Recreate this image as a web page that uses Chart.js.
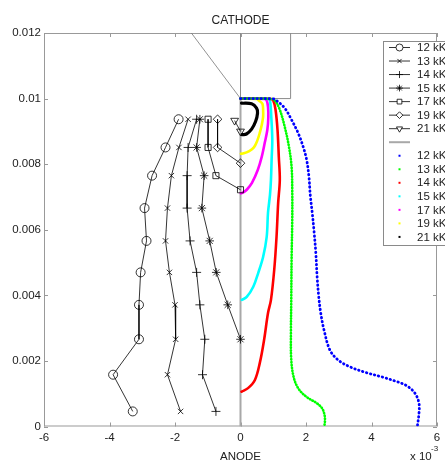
<!DOCTYPE html>
<html>
<head>
<meta charset="utf-8">
<script src="https://cdn.jsdelivr.net/npm/chart.js@4.4.0/dist/chart.umd.min.js"></script>
<style>
html, body { margin: 0; padding: 0; background: #fff; }
</style>
</head>
<body>
<canvas id="chart" width="445" height="462"></canvas>
<script>
// x in units of 1e-3, y in real units
const temps = ['12 kK', '13 kK', '14 kK', '15 kK', '17 kK', '19 kK', '21 kK'];
const xTicks = [-6, -4, -2, 0, 2, 4, 6];
const xTickLabels = ['-6', '-4', '-2', '0', '2', '4', '6'];
const yTicks = [0, 0.002, 0.004, 0.006, 0.008, 0.01, 0.012];
const yTickLabels = ['0', '0.002', '0.004', '0.006', '0.008', '0.01', '0.012'];

// measured profiles (markers)
const rowY = [0.00937, 0.00851, 0.00765, 0.00666, 0.00566, 0.0047, 0.00371, 0.00266, 0.00158, 0.00046];
const m12x = [-1.89, -2.29, -2.70, -2.93, -2.87, -3.05, -3.10, -3.10, -3.89, -3.29];
const m13x = [-1.60, -1.88, -2.11, -2.23, -2.29, -2.17, -2.00, -1.98, -2.23, -1.83];
const m14x = [-1.34, -1.60, -1.63, -1.63, -1.54, -1.34, -1.24, -1.09, -1.16, -0.75];
const m15x = [-1.24, -1.34, -1.11, -1.18, -0.94, -0.74, -0.39, 0.0];
const m15y = [0.00937, 0.00851, 0.00765, 0.00666, 0.00566, 0.0047, 0.00371, 0.00266];
const m17x = [-0.99, -0.99, -0.75, 0.0];
const m17y = [0.00937, 0.00851, 0.00765, 0.00722];
const m19x = [-0.70, -0.70, 0.0];
const m19y = [0.00937, 0.00851, 0.00803];
const m21x = [-0.18, 0.0];
const m21y = [0.00933, 0.009];

// simulated profiles (dots)
const s12x = [0.0, 1.0, 1.10, 1.35, 1.56, 1.76, 1.91, 2.02, 2.09, 2.13, 2.19, 2.25, 2.30, 2.34, 2.39, 2.45, 2.55, 2.73, 2.98, 3.34, 3.85, 4.36, 4.77, 5.08, 5.33, 5.45, 5.45, 5.40];
const s12y = [0.01, 0.00999, 0.00994, 0.00971, 0.00935, 0.00895, 0.00854, 0.00813, 0.00761, 0.00706, 0.00652, 0.0059, 0.00529, 0.00456, 0.00395, 0.00346, 0.00294, 0.00233, 0.00203, 0.00182, 0.00164, 0.0015, 0.00137, 0.00124, 0.00101, 0.00071, 0.0004, 0.0];
const s13x = [0.0, 0.95, 1.05, 1.20, 1.35, 1.48, 1.56, 1.58, 1.58, 1.56, 1.55, 1.54, 1.55, 1.63, 1.78, 2.02, 2.33, 2.49, 2.56, 2.58, 2.56];
const s13y = [0.01, 0.00999, 0.00994, 0.00966, 0.00914, 0.00853, 0.00792, 0.00722, 0.0063, 0.00508, 0.00386, 0.00294, 0.00203, 0.00148, 0.00114, 0.0009, 0.00071, 0.00056, 0.00038, 0.0002, 0.0];
const s14x = [0.0, 0.92, 1.00, 1.07, 1.13, 1.17, 1.20, 1.15, 1.10, 1.03, 0.93, 0.84, 0.72, 0.59, 0.44, 0.23, 0.03];
const s14y = [0.01, 0.00999, 0.00994, 0.00966, 0.00905, 0.00822, 0.00752, 0.00682, 0.00578, 0.00478, 0.00386, 0.00346, 0.00264, 0.00194, 0.00142, 0.00117, 0.00106];
const s15x = [0.0, 0.84, 0.90, 0.94, 0.97, 0.95, 0.93, 0.90, 0.84, 0.80, 0.69, 0.54, 0.39, 0.19, 0.04];
const s15y = [0.01, 0.00999, 0.00994, 0.00944, 0.00874, 0.00813, 0.00752, 0.00706, 0.00652, 0.00578, 0.00517, 0.00468, 0.00426, 0.00395, 0.00386];
const s17x = [0.0, 0.74, 0.80, 0.84, 0.85, 0.82, 0.74, 0.65, 0.53, 0.35, 0.19, 0.07, 0.01];
const s17y = [0.01, 0.00999, 0.00994, 0.00975, 0.00944, 0.00905, 0.00865, 0.00823, 0.00783, 0.00743, 0.00722, 0.00713, 0.00711];
const s19x = [0.0, 0.50, 0.56, 0.67, 0.69, 0.69, 0.65, 0.59, 0.51, 0.41, 0.25, 0.10, 0.01];
const s19y = [0.01, 0.00999, 0.00994, 0.00984, 0.00966, 0.00944, 0.0092, 0.00896, 0.00871, 0.00851, 0.00839, 0.00833, 0.00832];
const s21x = [0.03, 0.34, 0.49, 0.52, 0.46, 0.34, 0.18, 0.05];
const s21y = [0.00986, 0.00984, 0.00971, 0.00956, 0.0093, 0.00907, 0.00892, 0.0089];

// cathode outline and anode line
const cathodeX = [0, 0, 1.53, 1.53];
const cathodeY = [0.012, 0.01, 0.01, 0.012];
const slantX = [-1.5, 0];
const slantY = [0.012, 0.01];
const anodeX = [0, 0];
const anodeY = [0, 0.01];

function pts(xs, ys) {
    return xs.map((v, i) => ({ x: v, y: ys[i] }));
}

function measured(label, xs, ys, style, radius, rotation) {
    return {
        label: label,
        data: pts(xs, ys),
        showLine: true,
        borderColor: '#000',
        borderWidth: 0.8,
        pointStyle: style,
        pointRadius: radius,
        pointRotation: rotation || 0,
        pointBorderColor: '#000',
        pointBorderWidth: 0.8,
        pointBackgroundColor: 'rgba(0,0,0,0)',
        inLegend: 'marker',
        order: 1,
    };
}

function simulated(label, xs, ys, color, width, dash) {
    return {
        label: label,
        data: pts(xs, ys),
        showLine: true,
        borderColor: color,
        borderWidth: width,
        borderDash: dash || [],
        borderCapStyle: 'round',
        tension: 0.35,
        pointRadius: 0,
        inLegend: 'dot',
        order: 2,
    };
}

const datasets = [
    measured(temps[0], m12x, rowY, 'circle', 4.5),
    measured(temps[1], m13x, rowY, 'crossRot', 3.8),
    measured(temps[2], m14x, rowY, 'cross', 4.5),
    measured(temps[3], m15x, m15y, 'star', 4.3),
    measured(temps[4], m17x, m17y, 'rect', 4.3),
    measured(temps[5], m19x, m19y, 'rectRot', 4.3),
    measured(temps[6], m21x, m21y, 'triangle', 4.5, 180),
    {
        label: '',
        data: pts(anodeX, anodeY),
        showLine: true,
        borderColor: '#a8a8a8',
        borderWidth: 2,
        pointRadius: 0,
        inLegend: 'line',
        order: 5,
    },
    simulated(temps[0], s12x, s12y, '#0000ff', 2.8, [0.5, 3.6]),
    simulated(temps[1], s13x, s13y, '#00ff00', 2.6, [0.5, 2.4]),
    simulated(temps[2], s14x, s14y, '#ff0000', 2.6),
    simulated(temps[3], s15x, s15y, '#00ffff', 2.6),
    simulated(temps[4], s17x, s17y, '#ff00ff', 2.6),
    simulated(temps[5], s19x, s19y, '#ffff00', 2.6),
    simulated(temps[6], s21x, s21y, '#000000', 3.2),
    {
        data: pts(cathodeX, cathodeY),
        showLine: true,
        borderColor: '#8a8a8a',
        borderWidth: 1,
        pointRadius: 0,
        order: 4,
    },
    {
        data: pts(slantX, slantY),
        showLine: true,
        borderColor: '#777',
        borderWidth: 0.8,
        pointRadius: 0,
        order: 4,
    },
];

const fontFamily = "'Liberation Sans', Arial, sans-serif";
const frameColor = '#999';

const framePlugin = {
    id: 'frame',
    beforeDatasetsDraw(chart) {
        const { ctx, chartArea: a, scales } = chart;
        ctx.save();
        ctx.strokeStyle = frameColor;
        ctx.lineWidth = 1;
        ctx.strokeRect(a.left + 0.5, a.top + 0.5, a.right - a.left - 1, a.bottom - a.top - 1);
        ctx.beginPath();
        xTicks.forEach((v) => {
            const px = Math.round(scales.x.getPixelForValue(v)) + 0.5;
            ctx.moveTo(px, a.bottom);
            ctx.lineTo(px, a.bottom - 4);
            ctx.moveTo(px, a.top);
            ctx.lineTo(px, a.top + 4);
        });
        yTicks.forEach((v) => {
            const py = Math.round(scales.y.getPixelForValue(v)) + 0.5;
            ctx.moveTo(a.left, py);
            ctx.lineTo(a.left + 4, py);
            ctx.moveTo(a.right, py);
            ctx.lineTo(a.right - 4, py);
        });
        ctx.stroke();
        ctx.restore();
    },
    afterDatasetsDraw(chart) {
        const ctx = chart.ctx;
        const rows = chart.data.datasets.filter((d) => d.inLegend);
        const top = 47.5, step = 13.53;
        ctx.save();
        ctx.fillStyle = '#fff';
        ctx.fillRect(383.5, 41.5, 80, 204);
        ctx.strokeStyle = '#8a8a8a';
        ctx.lineWidth = 1;
        ctx.strokeRect(383.5, 41.5, 80, 204);
        ctx.font = '11.5px ' + fontFamily;
        ctx.textBaseline = 'middle';
        rows.forEach((d, i) => {
            const y = top + i * step;
            if (d.inLegend === 'marker') {
                ctx.strokeStyle = '#000';
                ctx.lineWidth = 0.8;
                ctx.beginPath();
                ctx.moveTo(389, y);
                ctx.lineTo(410, y);
                ctx.stroke();
                ctx.fillStyle = '#fff';
                Chart.helpers.drawPoint(ctx, {
                    pointStyle: d.pointStyle,
                    radius: d.pointRadius * 0.78,
                    rotation: d.pointRotation,
                    borderWidth: 0.8,
                }, 399.5, y);
            } else if (d.inLegend === 'line') {
                ctx.strokeStyle = d.borderColor;
                ctx.lineWidth = 2;
                ctx.beginPath();
                ctx.moveTo(389, y);
                ctx.lineTo(410, y);
                ctx.stroke();
            } else {
                ctx.fillStyle = d.borderColor;
                ctx.fillRect(398.5, y - 1, 2, 2);
            }
            ctx.fillStyle = '#222';
            ctx.fillText(d.label, 417, y + 0.5);
        });
        ctx.restore();
    },
    afterDraw(chart) {
        const ctx = chart.ctx;
        const cx = chart.scales.x.getPixelForValue(0);
        ctx.save();
        ctx.fillStyle = '#222';
        ctx.textBaseline = 'alphabetic';
        ctx.textAlign = 'center';
        ctx.font = '12px ' + fontFamily;
        ctx.fillText('CATHODE', cx, 24);
        ctx.font = '11.5px ' + fontFamily;
        ctx.fillText('ANODE', cx, 459.5);
        ctx.textAlign = 'left';
        ctx.fillText('x 10', 410, 459.5);
        ctx.font = '8px ' + fontFamily;
        ctx.fillText('-3', 431, 451);
        ctx.restore();
    },
};

new Chart(document.getElementById('chart'), {
    type: 'scatter',
    data: { datasets: datasets },
    options: {
        responsive: false,
        animation: false,
        events: [],
        layout: { padding: { left: 0, right: 8, top: 33, bottom: 13.5 } },
        scales: {
            x: {
                type: 'linear',
                min: -6,
                max: 6,
                afterBuildTicks: (s) => { s.ticks = xTicks.map((v) => ({ value: v })); },
                afterFit: (s) => { s.height = 22; },
                ticks: {
                    callback: (v, i) => xTickLabels[i],
                    color: '#222',
                    font: { family: fontFamily, size: 11.5 },
                    padding: 4,
                    maxRotation: 0,
                    autoSkip: false,
                },
                grid: { display: false, drawTicks: false },
                border: { display: false },
            },
            y: {
                type: 'linear',
                min: 0,
                max: 0.012,
                afterBuildTicks: (s) => { s.ticks = yTicks.map((v) => ({ value: v })); },
                afterFit: (s) => { s.width = 44; },
                ticks: {
                    callback: (v, i) => yTickLabels[i],
                    color: '#222',
                    font: { family: fontFamily, size: 11.5 },
                    padding: 3,
                    autoSkip: false,
                },
                grid: { display: false, drawTicks: false },
                border: { display: false },
            },
        },
        plugins: {
            legend: { display: false },
            tooltip: { enabled: false },
        },
    },
    plugins: [framePlugin],
});
</script>
</body>
</html>
